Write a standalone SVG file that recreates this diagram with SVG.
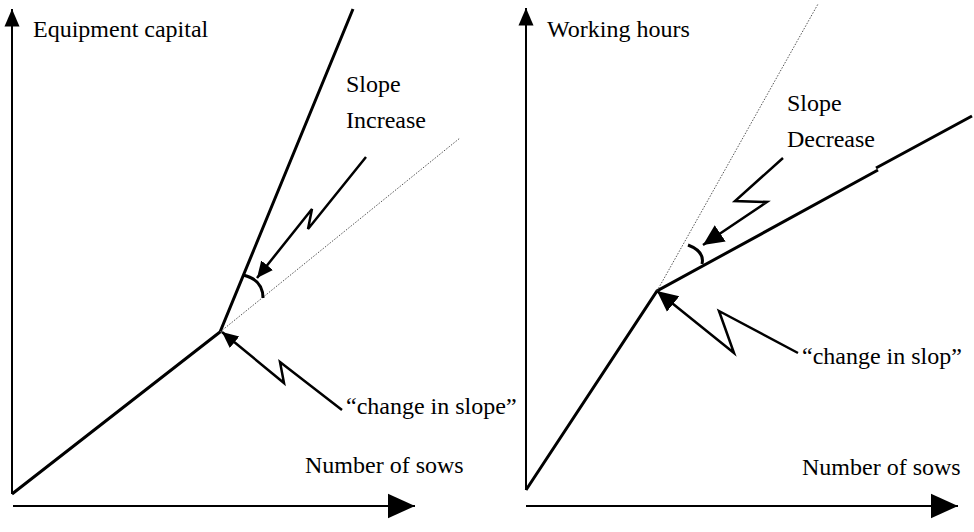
<svg xmlns="http://www.w3.org/2000/svg" width="974" height="532" viewBox="0 0 974 532">
<style>
text{font-family:"Liberation Serif","Times New Roman",serif;font-size:24px;fill:#000}
.ax{stroke:#000;stroke-width:2;fill:none}
.cv{stroke:#000;stroke-width:3;fill:none;stroke-linejoin:miter}
.dot{stroke:#555;stroke-width:1;fill:none;stroke-dasharray:1.5 1.5}
.lt{stroke:#000;stroke-width:2.5;fill:none;stroke-linejoin:miter}
.arc{stroke:#000;stroke-width:3;fill:none}
</style>
<defs>
<marker id="hY" markerUnits="userSpaceOnUse" markerWidth="20" markerHeight="20" viewBox="0 -8 16 16" refX="14" refY="0" orient="auto"><path d="M0,-6L14,0L0,6Z" fill="#000"/></marker>
<marker id="hX" markerUnits="userSpaceOnUse" markerWidth="30" markerHeight="30" viewBox="0 -12 24 24" refX="22" refY="0" orient="auto"><path d="M0,-10L22,0L0,10Z" fill="#000"/></marker>
<marker id="hS" markerUnits="userSpaceOnUse" markerWidth="20" markerHeight="20" viewBox="0 -8 16 16" refX="13" refY="0" orient="auto"><path d="M0,-6L13,0L0,6Z" fill="#000"/></marker>
<marker id="hL" markerUnits="userSpaceOnUse" markerWidth="24" markerHeight="24" viewBox="0 -11 22 22" refX="19" refY="0" orient="auto"><path d="M0,-9L19,0L0,9Z" fill="#000"/></marker>
</defs>
<rect width="974" height="532" fill="#fff"/>
<g id="connectors">
<line class="ax" x1="12" y1="494" x2="12" y2="9" marker-end="url(#hY)"/>
<line class="ax" x1="13" y1="506" x2="415" y2="506" marker-end="url(#hX)"/>
<line class="ax" x1="526" y1="490" x2="526" y2="8" marker-end="url(#hY)"/>
<line class="ax" x1="526" y1="506" x2="958" y2="506" marker-end="url(#hX)"/>
<path class="cv" d="M12,494L220,332L353,9"/>
<path class="cv" d="M526,490L657,291L878,170M876,168L972,116"/>
<path class="dot" d="M220,332L460,138"/>
<path class="dot" d="M657,291L818,4"/>
<path class="arc" d="M243,275Q263,279.5 263,298"/>
<path class="arc" d="M688,245Q705,251.5 702,264"/>
<path class="lt" d="M366,157L308,229L312,209L257,278" marker-end="url(#hS)"/>
<path class="lt" d="M342,410L280,362L284,383L222,332" marker-end="url(#hS)"/>
<path class="lt" d="M783,158L735,201L767,202L703,245" marker-end="url(#hL)"/>
<path class="lt" d="M798,353L719,311L734,353L657,291" marker-end="url(#hL)"/>
</g>
<g id="labels">
<text x="33" y="37">Equipment capital</text>
<text x="547" y="37">Working hours</text>
<text x="346" y="92">Slope</text>
<text x="346" y="128">Increase</text>
<text x="787" y="111">Slope</text>
<text x="787" y="147">Decrease</text>
<text x="346" y="414">“change in slope”</text>
<text x="802" y="364">“change in slop”</text>
<text x="305" y="473">Number of sows</text>
<text x="802" y="475">Number of sows</text>
</g>
</svg>
